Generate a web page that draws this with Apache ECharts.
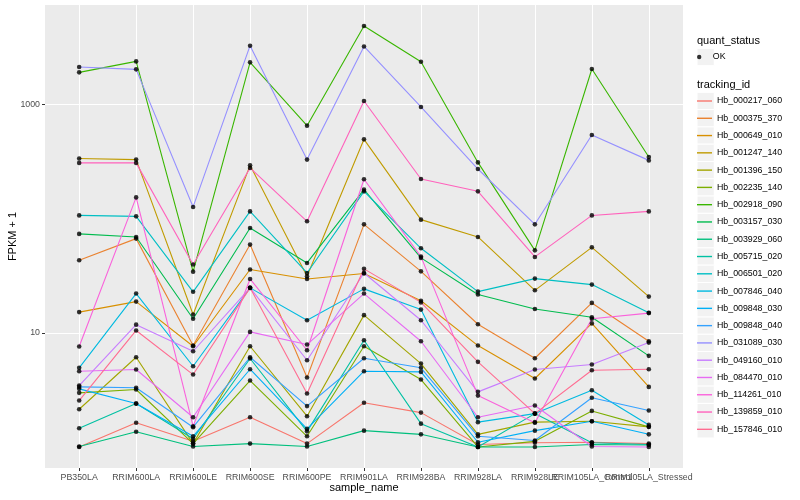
<!DOCTYPE html>
<html><head><meta charset="utf-8">
<script src="https://cdn.jsdelivr.net/npm/echarts@6/dist/echarts.min.js"></script>
<style>html,body{margin:0;padding:0;background:#fff}#c{width:800px;height:500px}</style>
</head><body><div id="c"></div>
<script>
const categories = ['PB350LA','RRIM600LA','RRIM600LE','RRIM600SE','RRIM600PE','RRIM901LA','RRIM928BA','RRIM928LA','RRIM928LE','RRIM105LA_Control','RRIM105LA_Stressed'];
const trackingIds = ['Hb_000217_060','Hb_000375_370','Hb_000649_010','Hb_001247_140','Hb_001396_150','Hb_002235_140','Hb_002918_090','Hb_003157_030','Hb_003929_060','Hb_005715_020','Hb_006501_020','Hb_007846_040','Hb_009848_030','Hb_009848_040','Hb_031089_030','Hb_049160_010','Hb_084470_010','Hb_114261_010','Hb_139859_010','Hb_157846_010'];

// FPKM + 1 values, one array per tracking_id, in category order
const Hb_000217_060 = [1.0, 1.63, 1.12, 1.82, 1.07, 2.44, 2.0, 1.05, 1.09, 1.1, 1.07];
const Hb_000375_370 = [43.3, 67, 7.74, 59.4, 4.06, 89.4, 34.6, 11.9, 5.99, 18.3, 8.44];
const Hb_000649_010 = [15.2, 18.8, 7.63, 35.9, 29.7, 33.1, 19.1, 7.74, 3.98, 12.1, 3.36];
const Hb_001247_140 = [338, 330, 14.5, 294, 31.3, 497, 98.3, 69.3, 23.6, 56.2, 20.8];
const Hb_001396_150 = [2.14, 6.11, 1.07, 7.63, 1.86, 14.3, 5.38, 1.29, 1.65, 1.68, 1.5];
const Hb_002235_140 = [2.98, 3.19, 1.07, 3.82, 1.24, 7.63, 3.9, 1.0, 1.12, 2.07, 1.5];
const Hb_002918_090 = [1920, 2395, 34.4, 2350, 655, 4890, 2380, 312, 52.9, 2055, 348];
const Hb_003157_030 = [73.7, 69.3, 13.3, 83.1, 41, 180, 45.4, 21.7, 16.2, 13.7, 6.29];
const Hb_003929_060 = [1.01, 1.36, 1.01, 1.07, 1.01, 1.39, 1.29, 1.0, 1.0, 1.05, 1.04];
const Hb_005715_020 = [1.46, 2.4, 1.18, 5.96, 1.37, 8.61, 1.6, 1.0, 1.96, 1.09, 1.05];
const Hb_006501_020 = [107, 105, 22.9, 116, 33.5, 174, 55.1, 23, 29.9, 26.5, 15];
const Hb_007846_040 = [4.94, 22.1, 5.1, 24.8, 12.9, 24.3, 16, 1.65, 1.96, 3.14, 1.56];
const Hb_009848_030 = [3.23, 2.4, 1.24, 4.8, 1.44, 4.61, 4.55, 1.1, 1.39, 1.68, 1.29];
const Hb_009848_040 = [3.36, 3.3, 1.49, 6.11, 2.28, 5.99, 4.94, 1.24, 1.14, 2.7, 2.09];
const Hb_031089_030 = [2140, 2040, 127, 3290, 330, 3240, 955, 273, 89.4, 543, 325];
const Hb_049160_010 = [3.45, 11.8, 6.9, 24.8, 5.75, 33.5, 12.9, 3.04, 4.77, 5.28, 8.22];
const Hb_084470_010 = [4.61, 4.77, 1.82, 10.2, 7.9, 22.1, 8.44, 1.82, 2.31, 1.01, 1.0];
const Hb_114261_010 = [7.59, 154, 1.52, 29.7, 7.04, 222, 46.6, 2.82, 1.63, 13.3, 14.9];
const Hb_139859_010 = [309, 309, 39.7, 279, 95, 1078, 223, 174, 46.3, 107, 116];
const Hb_157846_010 = [2.55, 10.5, 4.31, 24.8, 2.94, 36.4, 18.5, 5.57, 1.96, 4.7, 4.8];

const seriesValues = [Hb_000217_060, Hb_000375_370, Hb_000649_010, Hb_001247_140, Hb_001396_150, Hb_002235_140, Hb_002918_090, Hb_003157_030, Hb_003929_060, Hb_005715_020, Hb_006501_020, Hb_007846_040, Hb_009848_030, Hb_009848_040, Hb_031089_030, Hb_049160_010, Hb_084470_010, Hb_114261_010, Hb_139859_010, Hb_157846_010];
const yTickLabels = [10, 1000];
const quantStatus = ['OK'];

const palette = ['#F8766D','#EA8331','#D89000','#C09B00','#A3A500','#7CAE00','#39B600','#00BB4E','#00BF7D','#00C1A3','#00BFC4','#00BAE0','#00B0F6','#35A2FF','#9590FF','#C77CFF','#E76BF3','#FA62DB','#FF62BC','#FF6C91'];
const FONT = "'Liberation Sans', Arial, Helvetica, sans-serif";

// log-scale limits with 5% expansion (like ggplot)
const allVals = seriesValues.flat();
const lmin = Math.log10(Math.min(...allVals)), lmax = Math.log10(Math.max(...allVals));
const pad = (lmax - lmin) * 0.05;
const yMin = Math.pow(10, lmin - pad), yMax = Math.pow(10, lmax + pad);

const PANEL = {left: 45, top: 5, width: 638, height: 463};
const unit = PANEL.width / (categories.length - 1 + 1.2);
const dataLeft = PANEL.left + 0.6 * unit;
const dataWidth = unit * (categories.length - 1);

const lineSeries = trackingIds.map((id, k) => ({
  name: id, type: 'line', xAxisIndex: 1, yAxisIndex: 1,
  data: seriesValues[k], showSymbol: false, symbol: 'none',
  color: palette[k],
  lineStyle: {color: palette[k], width: 1.1},
  itemStyle: {color: palette[k]},
  emphasis: {disabled: true}, silent: true, z: 2
}));
const pointData = [];
seriesValues.forEach(arr => arr.forEach((v, i) => pointData.push([categories[i], v])));
const pointSeries = {
  name: quantStatus[0], type: 'scatter', xAxisIndex: 1, yAxisIndex: 1,
  data: pointData, symbol: 'circle', symbolSize: 4.6,
  itemStyle: {color: '#000000'}, emphasis: {disabled: true}, silent: true, z: 3
};

const KEY = 17.28;
const graphicEls = [];
graphicEls.push({type: 'rect', z: 1, shape: {x: 697, y: 48.36, width: KEY, height: KEY}, style: {fill: '#F2F2F2', stroke: '#FFFFFF', lineWidth: 1}});
trackingIds.forEach((id, i) => graphicEls.push({type: 'rect', z: 1, shape: {x: 697, y: 92.36 + i * KEY, width: KEY, height: KEY}, style: {fill: '#F2F2F2', stroke: '#FFFFFF', lineWidth: 1}}));
graphicEls.push({type: 'text', z: 2, x: 697, y: 40.5, style: {text: 'quant_status', fontSize: 11, fontFamily: FONT, fill: '#000', verticalAlign: 'middle'}});
graphicEls.push({type: 'text', z: 2, x: 697, y: 84.5, style: {text: 'tracking_id', fontSize: 11, fontFamily: FONT, fill: '#000', verticalAlign: 'middle'}});

const chart = echarts.init(document.getElementById('c'), null, {renderer: 'canvas'});
chart.setOption({
  animation: false,
  backgroundColor: '#FFFFFF',
  textStyle: {fontFamily: FONT},
  grid: [
    {left: PANEL.left, top: PANEL.top, width: PANEL.width, height: PANEL.height, show: true, backgroundColor: '#EBEBEB', borderWidth: 0, containLabel: false, outerBoundsMode: 'none'},
    {left: dataLeft, top: PANEL.top, width: dataWidth, height: PANEL.height, show: false, containLabel: false, outerBoundsMode: 'none'}
  ],
  xAxis: [
    {type: 'value', gridIndex: 0, show: false, min: 0, max: 1},
    {type: 'category', gridIndex: 1, data: categories, boundaryGap: false,
     axisLine: {show: false},
     axisTick: {show: true, length: 3, lineStyle: {color: '#333333', width: 1}},
     axisLabel: {interval: 0, margin: 5, fontSize: 8.8, color: '#4D4D4D', fontFamily: FONT, hideOverlap: false},
     splitLine: {show: true, lineStyle: {color: '#FFFFFF', width: 1}},
     name: 'sample_name', nameLocation: 'middle', nameGap: 14.5, nameMoveOverlap: false,
     nameTextStyle: {fontSize: 11, color: '#000000', fontFamily: FONT}}
  ],
  yAxis: [
    {type: 'log', logBase: 10, gridIndex: 0, min: yMin, max: yMax,
     axisLine: {show: false},
     axisTick: {show: true, length: 3, customValues: yTickLabels, lineStyle: {color: '#333333', width: 1}},
     axisLabel: {margin: 5, fontSize: 8.8, color: '#4D4D4D', fontFamily: FONT, customValues: yTickLabels,
       formatter: v => { const l = Math.log10(v); for (const t of yTickLabels) { if (Math.abs(l - Math.log10(t)) < 1e-6) return String(t); } return ''; }},
     splitLine: {show: true, lineStyle: {color: '#FFFFFF', width: 1}},
     minorSplitLine: {show: false},
     name: 'FPKM + 1', nameLocation: 'middle', nameGap: 26.5, nameMoveOverlap: false,
     nameTextStyle: {fontSize: 11, color: '#000000', fontFamily: FONT}},
    {type: 'log', logBase: 10, gridIndex: 1, min: yMin, max: yMax, show: false,
     splitLine: {show: false}}
  ],
  legend: [
    {data: quantStatus, orient: 'vertical', left: 697, top: 48.36, padding: 0, z: 10,
     icon: 'circle', itemWidth: 17.28, itemHeight: 4.4, itemGap: 0, selectedMode: false,
     textStyle: {fontSize: 8.8, color: '#000', fontFamily: FONT, lineHeight: KEY}},
    {data: trackingIds, orient: 'vertical', left: 697, top: 92.36, padding: 0, z: 10,
     icon: 'rect', itemWidth: 15, itemHeight: 1.4, itemGap: 0, selectedMode: false,
     textStyle: {fontSize: 8.8, color: '#000', fontFamily: FONT, lineHeight: KEY}}
  ],
  graphic: {elements: graphicEls},
  series: [...lineSeries, pointSeries]
});
</script></body></html>
